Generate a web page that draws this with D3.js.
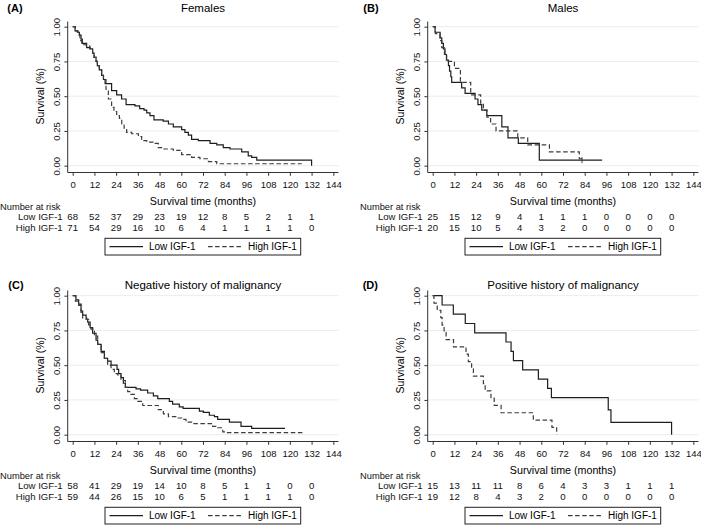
<!DOCTYPE html>
<html>
<head>
<meta charset="utf-8">
<script src="https://cdn.jsdelivr.net/npm/d3@7"></script>
<style>
  body { margin: 0; background: #fff; }
  svg { display: block; font-family: "Liberation Sans", Arial, Helvetica, sans-serif; }
</style>
</head>
<body>
<svg id="chart" width="701" height="526"></svg>
<script>
(function() {
  'use strict';

  // ---- data: [month, survival] steps ----
  var monthTicks = [0, 12, 24, 36, 48, 60, 72, 84, 96, 108, 120, 132, 144];
  var survivalTicks = [0, 0.25, 0.5, 0.75, 1];
  var riskMonths = [0, 12, 24, 36, 48, 60, 72, 84, 96, 108, 120, 132];
  var groupNames = ['Low IGF-1', 'High IGF-1'];

  var femalesLow = [[0,1],[1.3,0.97],[2.6,0.96],[3.7,0.94],[4.6,0.91],[5.3,0.88],[7.7,0.85],[9.6,0.84],
    [11,0.81],[11.8,0.78],[12.9,0.75],[13.6,0.72],[14.7,0.69],[16,0.65],[17,0.62],[17.9,0.59],[21.5,0.54],
    [24.3,0.51],[27,0.48],[29.5,0.44],[34.4,0.43],[37,0.41],[39.4,0.40],[40.9,0.38],[42.7,0.36],[44.9,0.33],
    [50,0.32],[52.9,0.30],[55.6,0.28],[60.2,0.26],[62,0.24],[63.9,0.22],[65.7,0.19],[69.4,0.18],[75.9,0.16],
    [79.6,0.15],[83.2,0.13],[86.9,0.12],[93.4,0.10],[97,0.07],[98.9,0.06],[101.7,0.04],[132,0]];
  var femalesHigh = [[0,1],[1.5,0.97],[3,0.94],[4,0.90],[5,0.87],[7.5,0.86],[9.5,0.84],[11,0.81],[11.8,0.78],
    [12.9,0.75],[13.6,0.72],[14.7,0.69],[16,0.65],[17,0.62],[18.4,0.55],[19.7,0.48],[21.5,0.42],[22.8,0.39],
    [24.3,0.36],[25.8,0.34],[27.1,0.30],[28.4,0.27],[29.8,0.24],[32.6,0.23],[36.3,0.21],[38.1,0.18],[40.9,0.17],
    [45.5,0.16],[47.3,0.13],[50.1,0.12],[55.6,0.11],[60.2,0.08],[65.7,0.06],[70.3,0.05],[75,0.03],[79.6,0.014],
    [126.5,0.014]];
  var femalesRiskLow = [68, 52, 37, 29, 23, 19, 12, 8, 5, 2, 1, 1];
  var femalesRiskHigh = [71, 54, 29, 16, 10, 6, 4, 1, 1, 1, 1, 0];

  var malesLow = [[0,1],[1.3,0.96],[4.1,0.92],[5,0.88],[5.9,0.84],[6.8,0.80],[7.6,0.76],[8.7,0.72],[9.3,0.68],
    [10,0.64],[10.5,0.60],[16,0.56],[17.9,0.52],[23.4,0.48],[25,0.44],[27.1,0.40],[29.9,0.36],[38.2,0.28],
    [41.6,0.20],[47.3,0.16],[58.9,0.04],[93.6,0.04]];
  var malesHigh = [[0,1],[1.5,0.95],[4,0.90],[5,0.85],[6.5,0.80],[7.7,0.75],[12,0.70],[15.3,0.60],[21,0.51],
    [26.5,0.45],[28,0.40],[30,0.35],[32,0.30],[35,0.25],[47,0.20],[52.5,0.15],[64.5,0.10],[81,0.05],[83,0.05]];
  var malesCensor = [[82.5, 0.04]];
  var malesRiskLow = [25, 15, 12, 9, 4, 1, 1, 1, 0, 0, 0, 0];
  var malesRiskHigh = [20, 15, 10, 5, 4, 3, 2, 0, 0, 0, 0, 0];

  var negLow = [[0,1],[1.8,0.97],[3.3,0.94],[4.6,0.89],[5.5,0.86],[7.4,0.83],[8.3,0.81],[9.6,0.77],[11,0.73],
    [12.9,0.68],[13.8,0.65],[15.7,0.60],[17.5,0.55],[19.3,0.53],[21.2,0.50],[24.5,0.47],[25.4,0.44],[26.7,0.41],
    [28,0.37],[29.1,0.34],[35,0.33],[37.5,0.32],[41.4,0.30],[44.6,0.28],[47,0.26],[53.4,0.24],[55.2,0.22],
    [58.9,0.20],[61,0.19],[70,0.17],[72.2,0.16],[75.5,0.14],[78.3,0.13],[80.1,0.11],[86.6,0.09],[93,0.06],
    [98.9,0.045],[117.3,0.045]];
  var negHigh = [[0,1],[1.5,0.96],[3.3,0.93],[4.6,0.88],[5.5,0.84],[7.7,0.83],[8.8,0.79],[10.1,0.76],[12,0.71],
    [13.8,0.65],[15.7,0.59],[17.5,0.55],[19.3,0.50],[21.2,0.47],[23,0.44],[24.9,0.43],[26.7,0.39],[29.1,0.34],
    [30.4,0.31],[32.2,0.29],[34.1,0.26],[35.9,0.24],[38.7,0.21],[47.3,0.18],[50.1,0.15],[52.9,0.13],[57.5,0.12],
    [60.2,0.11],[62.6,0.09],[65.7,0.08],[77.3,0.06],[80.1,0.05],[82.9,0.02],[83.8,0.015],[127,0.015]];
  var negRiskLow = [58, 41, 29, 19, 14, 10, 8, 5, 1, 1, 0, 0];
  var negRiskHigh = [59, 44, 26, 15, 10, 6, 5, 1, 1, 1, 1, 0];

  var posLow = [[0,1],[5.2,0.933],[11.4,0.867],[18,0.80],[23.2,0.733],[40.5,0.667],[43.3,0.60],[44.6,0.533],
    [49.7,0.467],[58.4,0.40],[63.5,0.333],[65.6,0.267],[97,0.178],[98.5,0.089],[132,0]];
  var posHigh = [[0,1],[0.7,0.947],[2.5,0.895],[4.5,0.842],[5.2,0.789],[6.3,0.737],[7.4,0.684],[11.5,0.632],
    [18.4,0.579],[19.7,0.526],[21.5,0.474],[22.5,0.421],[28,0.368],[29,0.316],[32.2,0.263],[34,0.211],
    [37.8,0.158],[55.6,0.105],[65.9,0.053],[68.5,0]];
  var posRiskLow = [15, 13, 11, 11, 8, 6, 4, 3, 3, 1, 1, 1];
  var posRiskHigh = [19, 12, 8, 4, 3, 2, 0, 0, 0, 0, 0, 0];

  // ---- panel layout ----
  var panels = [
    {tag: '(A)', title: 'Females', low: femalesLow, high: femalesHigh, riskLow: femalesRiskLow,
      riskHigh: femalesRiskHigh, censor: [], ox: 0, oy: 0, tagX: 7.3, titleY: 11.5},
    {tag: '(B)', title: 'Males', low: malesLow, high: malesHigh, riskLow: malesRiskLow,
      riskHigh: malesRiskHigh, censor: malesCensor, ox: 360, oy: 0, tagX: 3.3, titleY: 11.5},
    {tag: '(C)', title: 'Negative history of malignancy', low: negLow, high: negHigh, riskLow: negRiskLow,
      riskHigh: negRiskHigh, censor: [], ox: 0, oy: 269, tagX: 8.3, titleY: 19.5},
    {tag: '(D)', title: 'Positive history of malignancy', low: posLow, high: posHigh, riskLow: posRiskLow,
      riskHigh: posRiskHigh, censor: [], ox: 360, oy: 269, tagX: 2.7, titleY: 19.5}
  ];

  var svg = d3.select('#chart');
  var lineColor = '#1e1e1e', dashColor = '#3c3c3c', dashPattern = '4.5,2.6';

  var x = d3.scaleLinear().domain([0, 144]).range([72.7, 333.3]);
  var y = d3.scaleLinear().domain([0, 1]).range([165.7, 26.7]);
  var axisLeftX = 67.7, axisBottomY = 172.5;

  var km = d3.line()
    .x(function(d) { return x(d[0]); })
    .y(function(d) { return y(d[1]); })
    .curve(d3.curveStepAfter);

  panels.forEach(drawPanel);

  function drawPanel(p) {
    var g = svg.append('g').attr('transform', 'translate(' + p.ox + ',' + p.oy + ')');

    // panel tag + title
    g.append('text').attr('x', p.tagX).attr('y', p.titleY)
      .style('font-size', '11px').style('font-weight', 'bold').text(p.tag);
    g.append('text').attr('x', (x.range()[0] + x.range()[1]) / 2).attr('y', p.titleY)
      .attr('text-anchor', 'middle').style('font-size', '11.5px').text(p.title);

    // grid lines
    g.selectAll('line.grid').data(survivalTicks).enter().append('line')
      .attr('class', 'grid')
      .attr('x1', axisLeftX).attr('x2', 338.5)
      .attr('y1', function(d) { return y(d); }).attr('y2', function(d) { return y(d); })
      .style('stroke', '#ececec').style('stroke-width', 1);

    // y axis
    var ya = g.append('g').attr('transform', 'translate(' + axisLeftX + ',0)')
      .call(d3.axisLeft(y).tickValues(survivalTicks).tickSize(3.3).tickFormat(d3.format('.2f')));
    ya.select('.domain').remove();
    ya.selectAll('line').style('stroke', '#333');
    ya.selectAll('text')
      .attr('transform', 'rotate(-90)')
      .attr('x', 0).attr('y', -8.2).attr('dy', 0)
      .style('text-anchor', 'middle').style('font-size', '9.5px').style('fill', '#111');
    g.append('line').attr('x1', axisLeftX).attr('x2', axisLeftX).attr('y1', 21.5).attr('y2', axisBottomY)
      .style('stroke', '#333').style('stroke-width', 1);
    g.append('text')
      .attr('transform', 'translate(43.5,' + (y(0.5)) + ') rotate(-90)')
      .attr('text-anchor', 'middle').style('font-size', '10.5px').text('Survival (%)');

    // x axis
    var xa = g.append('g').attr('transform', 'translate(0,' + axisBottomY + ')')
      .call(d3.axisBottom(x).tickValues(monthTicks).tickSize(3.3).tickPadding(5.2));
    xa.select('.domain').remove();
    xa.selectAll('line').style('stroke', '#333');
    xa.selectAll('text').style('font-size', '9.5px').style('fill', '#111');
    g.append('line').attr('x1', axisLeftX).attr('x2', 338.5).attr('y1', axisBottomY).attr('y2', axisBottomY)
      .style('stroke', '#333').style('stroke-width', 1);
    g.append('text').attr('x', (x.range()[0] + x.range()[1]) / 2).attr('y', 204.5)
      .attr('text-anchor', 'middle').style('font-size', '10.7px').text('Survival time (months)');

    // KM curves
    g.append('path').datum(p.low).attr('d', km)
      .style('fill', 'none').style('stroke', lineColor).style('stroke-width', 1.2);
    g.append('path').datum(p.high).attr('d', km)
      .style('fill', 'none').style('stroke', dashColor).style('stroke-width', 1.2)
      .style('stroke-dasharray', dashPattern);
    g.selectAll('line.censor').data(p.censor).enter().append('line')
      .attr('class', 'censor')
      .attr('x1', function(d) { return x(d[0]); }).attr('x2', function(d) { return x(d[0]); })
      .attr('y1', function(d) { return y(d[1]) - 3; }).attr('y2', function(d) { return y(d[1]) + 3; })
      .style('stroke', dashColor).style('stroke-width', 1);

    // number at risk table
    var tbl = g.append('g').style('font-size', '9.6px').style('fill', '#111');
    tbl.append('text').attr('x', p.ox === 0 ? 0 : 0).attr('y', 210).style('font-size', '9.3px').text('Number at risk');
    [p.riskLow, p.riskHigh].forEach(function(row, i) {
      var ry = 220.3 + i * 10.6;
      tbl.append('text').attr('x', 62.7).attr('y', ry).attr('text-anchor', 'end').text(groupNames[i]);
      tbl.selectAll('text.n' + i).data(row).enter().append('text')
        .attr('class', 'n' + i)
        .attr('x', function(d, j) { return x(riskMonths[j]); })
        .attr('y', ry).attr('text-anchor', 'middle')
        .text(function(d) { return d; });
    });

    // legend
    var lg = g.append('g').attr('transform', 'translate(105,238.3)');
    lg.append('rect').attr('width', 195.7).attr('height', 16.7)
      .style('fill', '#fff').style('stroke', '#222').style('stroke-width', 1);
    lg.append('line').attr('x1', 4.5).attr('x2', 38).attr('y1', 8.4).attr('y2', 8.4)
      .style('stroke', lineColor).style('stroke-width', 1.2);
    lg.append('text').attr('x', 44).attr('y', 12).style('font-size', '10px').text(groupNames[0]);
    lg.append('line').attr('x1', 103).attr('x2', 137).attr('y1', 8.4).attr('y2', 8.4)
      .style('stroke', dashColor).style('stroke-width', 1.2).style('stroke-dasharray', dashPattern);
    lg.append('text').attr('x', 143).attr('y', 12).style('font-size', '10px').text(groupNames[1]);
  }
})();
</script>
</body>
</html>
